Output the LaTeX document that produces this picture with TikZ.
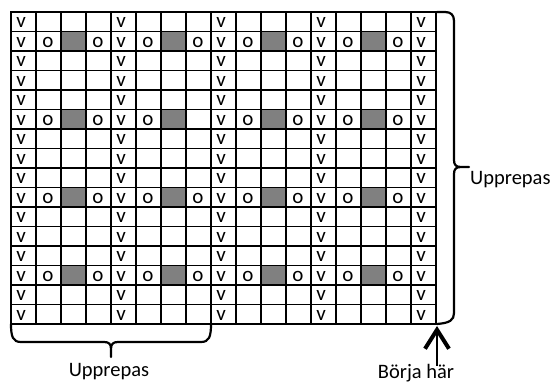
\documentclass[tikz,border=0pt]{standalone}
\usepackage{fontspec}
\setmainfont{Carlito}
\usetikzlibrary{arrows.meta}
\definecolor{cellgray}{RGB}{128,128,128}
\begin{document}
\begin{tikzpicture}[x=1pt,y=-1pt,
  gridline/.style={line width=1.5pt,black},
  outerline/.style={line width=1.8pt,black},
  celltext/.style={font=\fontsize{21}{21}\selectfont,inner sep=0pt,anchor=base},
  lbl/.style={font=\fontsize{20.5}{20.5}\selectfont,inner sep=0pt},
  bracestyle/.style={line width=2.2pt,line cap=round,line join=round},
  graycell/.style={fill=cellgray}]
\useasboundingbox (0,0) rectangle (558,385);
% gray cells
\foreach \r in {1,5,9,13}{
  \foreach \c in {2,6,10,14}{
    \fill[graycell] ({11+25*\c},{12+19.5*\r}) rectangle +(25,19.5);
  }
}
% grid
\foreach \i in {1,...,16}
  \draw[gridline] ({11+25*\i},12) -- ({11+25*\i},324);
\foreach \j in {1,...,15}
  \draw[gridline] (11,{12+19.5*\j}) -- (436,{12+19.5*\j});
\draw[outerline] (11,12) rectangle (436,324);
% v cells
\foreach \r in {0,...,15}{
  \foreach \c in {0,4,8,12,16}{
    \node[celltext] (v-\r-\c) at ({11+25*\c+10},{12+19.5*\r+15.6}) {v};
  }
}
% o cells
\foreach \r in {1,9,13}{
  \foreach \c in {1,3,5,7,9,11,13,15}{
    \node[celltext] (o-\r-\c) at ({11+25*\c+12},{12+19.5*\r+15.6}) {o};
  }
}
\foreach \c in {1,3,5,9,11,13,15}{
  \node[celltext] (o-5-\c) at ({11+25*\c+12},{12+19.5*5+15.6}) {o};
}
% braces
\coordinate (tr) at (437,12);
\coordinate (br) at (437,324);
\coordinate (rtip) at (469,167);
\coordinate (bl) at (11,324);
\coordinate (bm) at (211,324);
\coordinate (btip) at (111,357);
\draw[bracestyle] (tr) -- (445,12) .. controls (451,12) and (454,15) .. (454,21)
  -- (454,160) .. controls (454,165) and (456,167) .. (461,167) -- (rtip)
  (461,167) .. controls (456,167) and (454,169) .. (454,174)
  -- (454,313) .. controls (454,320) and (450,323) .. (br);
\draw[bracestyle] (bl) .. controls (11,337) and (13,342) .. (21,342)
  -- (104,342) .. controls (109,342) and (111,344) .. (111,349) -- (btip)
  (111,349) .. controls (111,344) and (113,342) .. (118,342)
  -- (201,342) .. controls (209,342) and (211,337) .. (bm);
% labels
\node[lbl,anchor=base west] (rlabel) at (470,185) {Upprepas};
\node[lbl,anchor=base] (blabel) at (109,377) {Upprepas};
\node[lbl,anchor=base] (start) at (416,379) {Börja här};
% arrow
\coordinate (arrowfoot) at (437,366);
\coordinate (arrowtip) at (437,326);
\draw[line width=2.4pt,-{Straight Barb[length=19pt,width=24pt,line width=4pt]}] (arrowfoot) -- (arrowtip);
\end{tikzpicture}
\end{document}
